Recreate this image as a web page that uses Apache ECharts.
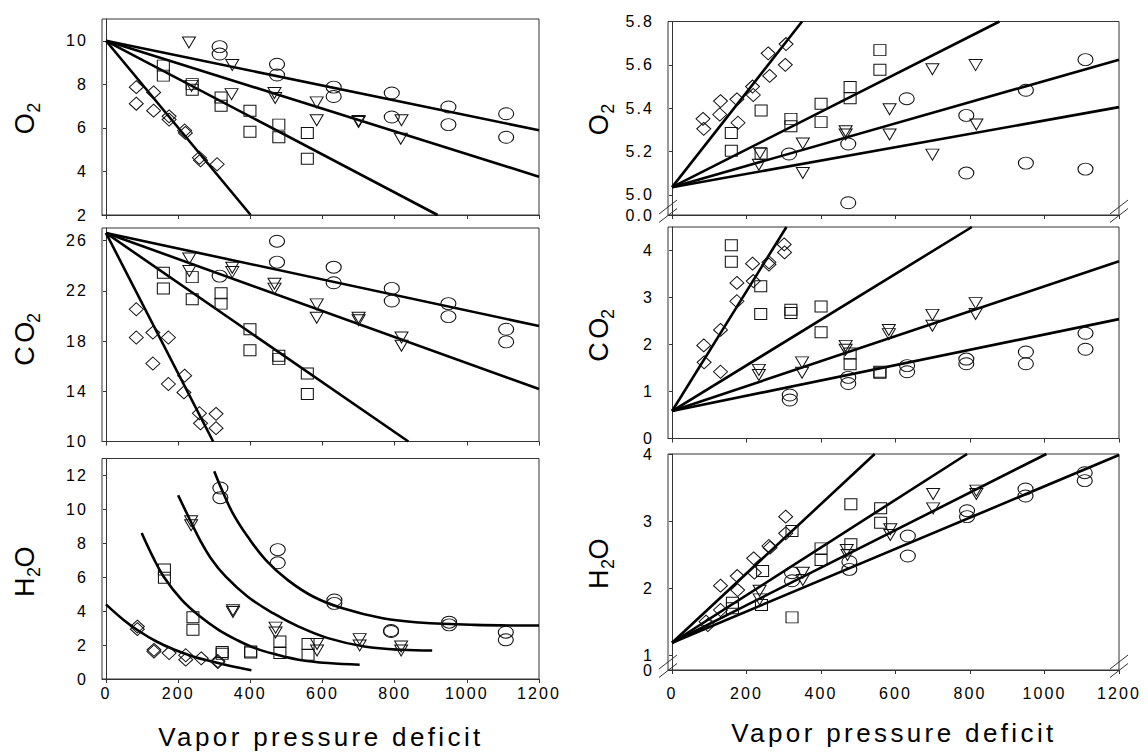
<!DOCTYPE html>
<html><head><meta charset="utf-8">
<script src="https://cdn.jsdelivr.net/npm/echarts@6/dist/echarts.min.js"></script>
<style>
html,body{margin:0;padding:0;background:#fff;}
#main{width:1148px;height:755px;}
#main text{letter-spacing:0.13em;}
</style></head><body><div id="main"></div>
<script>
// ---------- tick labels ----------
const vpdTicks = [0, 200, 400, 600, 800, 1000, 1200];
const o2LeftTicks = [2, 4, 6, 8, 10];
const co2LeftTicks = [10, 14, 18, 22, 26];
const h2oLeftTicks = [0, 2, 4, 6, 8, 10, 12];
const o2RightTicks = [4.9076, 5.0, 5.2, 5.4, 5.6, 5.8];
const o2RightLabels = ['0.0', '5.0', '5.2', '5.4', '5.6', '5.8'];
const co2RightTicks = [0, 1, 2, 3, 4];
const h2oRightTicks = [0.777, 1, 2, 3, 4];
const h2oRightLabelTicks = [1, 2, 3, 4];
const h2oRightBreakLabel = '0';

// ---------- left O2 ----------
const o2L_circ = [[315,9.73],[315,9.39],[474,8.92],[474,8.43],[631,7.87],[631,7.44],[792,7.60],[792,6.50],[949,6.96],[949,6.15],[1109,6.65],[1109,5.57]];
const o2L_tri = [[230,9.92],[350,8.89],[237,7.93],[348,7.55],[467,7.60],[469,7.37],[584,7.17],[584,6.35],[700,6.27],[700,6.32],[819,6.35],[817,5.50]];
const o2L_sq = [[159,8.86],[159,8.40],[239,8.01],[239,7.75],[319,7.40],[319,7.02],[399,6.79],[399,5.82],[479,6.15],[479,5.57],[558,5.77],[558,4.58]];
const o2L_dia = [[84,7.87],[84,7.11],[132,7.63],[132,6.79],[175,6.53],[175,6.38],[218,5.88],[220,5.77],[259,4.63],[262,4.51],[308,4.33]];
const o2L_fitCirc = [[0,10],[1200,5.89]];
const o2L_fitTri = [[0,10],[1200,3.76]];
const o2L_fitSq = [[0,10],[919,2]];
const o2L_fitDia = [[0,10],[401,2]];

// ---------- left CO2 ----------
const co2L_circ = [[474,25.95],[474,24.28],[315,23.17],[631,23.88],[631,22.64],[792,22.19],[792,21.19],[949,20.98],[949,19.94],[1109,18.94],[1109,17.93]];
const co2L_tri = [[231,24.57],[231,23.57],[350,23.83],[350,23.49],[467,22.56],[467,22.17],[584,20.92],[584,19.86],[700,19.86],[700,19.65],[819,18.28],[819,17.62]];
const co2L_sq = [[159,23.43],[159,22.19],[239,23.09],[239,21.32],[319,21.80],[319,20.98],[399,18.94],[399,17.27],[479,16.82],[479,16.56],[558,15.42],[558,13.78]];
const co2L_dia = [[84,20.53],[84,18.28],[130,18.67],[173,18.28],[130,16.21],[173,14.58],[218,15.24],[216,13.91],[259,12.25],[262,11.45],[305,12.20],[305,11.06]];
const co2L_fitCirc = [[0,26.6],[1200,19.2]];
const co2L_fitTri = [[0,26.6],[1200,14.18]];
const co2L_fitSq = [[0,26.6],[838,10]];
const co2L_fitDia = [[0,26.6],[297,10]];

// ---------- left H2O ----------
const h2oL_circ = [[317,11.26],[317,10.69],[476,7.63],[476,6.85],[633,4.66],[633,4.46],[790,2.86],[790,2.80],[951,3.35],[951,3.19],[1108,2.76],[1108,2.31]];
const h2oL_tri = [[236,9.30],[236,9.06],[352,4.05],[352,3.95],[470,3.03],[470,2.74],[585,2.06],[585,1.68],[703,2.35],[703,1.98],[818,1.92],[818,1.68]];
const h2oL_sq = [[162,6.46],[162,5.97],[241,3.64],[241,2.90],[322,1.59],[322,1.49],[401,1.62],[401,1.56],[482,2.21],[482,1.53],[560,2.06],[560,1.43]];
const h2oL_dia = [[87,3.09],[87,2.94],[133,1.72],[133,1.62],[175,1.53],[221,1.40],[221,1.14],[264,1.22],[310,1.06],[310,1.00]];
const h2oL_fitCirc = [[300,12.25],[322,11.12],[352,9.75],[393,8.38],[443,7.01],[504,5.83],[575,4.85],[656,4.17],[767,3.58],[868,3.33],[1020,3.19],[1200,3.15]];
const h2oL_fitTri = [[200,10.83],[231,9.46],[261,8.18],[291,7.11],[332,6.03],[393,4.85],[463,3.88],[534,3.09],[615,2.41],[716,1.92],[818,1.72],[904,1.68]];
const h2oL_fitSq = [[99,8.61],[130,7.20],[160,6.03],[210,4.66],[261,3.68],[312,2.90],[362,2.31],[413,1.82],[474,1.43],[534,1.14],[615,0.94],[703,0.84]];
const h2oL_fitDia = [[0,4.40],[49,3.48],[89,2.86],[140,2.21],[190,1.72],[241,1.33],[291,1.04],[342,0.78],[403,0.52]];

// ---------- right O2 ----------
const o2R_circ = [[314,5.189],[473,5.235],[473,4.964],[630,5.444],[790,5.367],[790,5.101],[950,5.483],[950,5.147],[1110,5.624],[1110,5.119]];
const o2R_tri = [[236,5.193],[233,5.139],[351,5.237],[351,5.101],[466,5.294],[466,5.279],[584,5.395],[584,5.279],[699,5.580],[699,5.186],[815,5.599],[817,5.325]];
const o2R_sq = [[159,5.286],[159,5.204],[239,5.390],[239,5.190],[319,5.351],[319,5.317],[400,5.421],[400,5.336],[478,5.498],[478,5.446],[558,5.668],[558,5.577]];
const o2R_dia = [[83,5.351],[85,5.305],[130,5.433],[128,5.371],[174,5.441],[177,5.333],[216,5.500],[218,5.461],[258,5.653],[262,5.549],[306,5.696],[304,5.600]];
const o2R_fitCirc = [[0,5.036],[1200,5.405]];
const o2R_fitTri = [[0,5.036],[1200,5.624]];
const o2R_fitSq = [[0,5.036],[879,5.8]];
const o2R_fitDia = [[0,5.036],[349,5.8]];

// ---------- right CO2 ----------
const co2R_circ = [[316,0.925],[316,0.82],[473,1.30],[473,1.17],[631,1.55],[631,1.42],[790,1.69],[790,1.59],[950,1.84],[950,1.59],[1110,2.24],[1110,1.90]];
const co2R_tri = [[233,1.46],[233,1.35],[349,1.62],[349,1.40],[466,1.97],[466,1.89],[582,2.31],[582,2.22],[699,2.63],[699,2.40],[815,2.88],[815,2.65]];
const co2R_sq = [[159,4.11],[159,3.76],[238,3.24],[238,2.65],[319,2.74],[319,2.67],[400,2.81],[400,2.26],[478,1.81],[478,1.58],[558,1.40],[558,1.42]];
const co2R_dia = [[85,1.98],[86,1.62],[130,2.31],[130,1.42],[174,3.31],[174,2.92],[216,3.72],[218,3.35],[260,3.75],[260,3.70],[301,4.13],[302,3.96]];
const co2R_fitCirc = [[0,0.584],[1200,2.54]];
const co2R_fitTri = [[0,0.584],[1200,3.77]];
const co2R_fitSq = [[0,0.584],[805,4.5]];
const co2R_fitDia = [[0,0.584],[307,4.5]];

// ---------- right H2O ----------
const h2oR_circ = [[322,2.229],[322,2.109],[476,2.393],[476,2.279],[633,2.776],[633,2.478],[792,3.154],[792,3.065],[949,3.478],[949,3.373],[1108,3.721],[1108,3.602]];
const h2oR_tri = [[235,1.960],[235,1.831],[351,2.229],[351,2.119],[469,2.567],[471,2.493],[586,2.876],[586,2.791],[701,3.403],[701,3.189],[817,3.453],[817,3.403]];
const h2oR_sq = [[162,1.781],[162,1.697],[243,2.254],[240,1.746],[322,2.851],[322,1.562],[400,2.592],[400,2.418],[480,3.249],[480,2.652],[560,3.189],[560,2.975]];
const h2oR_dia = [[91,1.498],[96,1.448],[130,2.035],[130,1.672],[175,2.179],[176,1.970],[219,2.443],[221,2.229],[260,2.627],[263,2.602],[305,3.065],[305,2.816]];
const h2oR_fitCirc = [[0,1.184],[1200,3.985]];
const h2oR_fitTri = [[0,1.184],[1005,4]];
const h2oR_fitSq = [[0,1.184],[792,4]];
const h2oR_fitDia = [[0,1.184],[544,4]];

// ---------- layout ----------
const FONT = "'Liberation Sans', Arial, sans-serif";
const grids = [
  {left:102, top:19,    width:437, height:196},
  {left:102, top:228,   width:437, height:213.5},
  {left:102, top:458.5, width:437, height:220.5},
  {left:668, top:21.5,  width:451, height:193.5},
  {left:668, top:227,   width:451, height:211.5},
  {left:668, top:454,   width:451, height:216}
];
const panels = [
  {min:2, max:11, ticks:o2LeftTicks, labelTicks:o2LeftTicks, labels:null, xLab:false, sc:[o2L_circ,o2L_tri,o2L_sq,o2L_dia], fit:[o2L_fitCirc,o2L_fitTri,o2L_fitSq,o2L_fitDia], smooth:false},
  {min:10, max:27, ticks:co2LeftTicks, labelTicks:co2LeftTicks, labels:null, xLab:false, sc:[co2L_circ,co2L_tri,co2L_sq,co2L_dia], fit:[co2L_fitCirc,co2L_fitTri,co2L_fitSq,co2L_fitDia], smooth:false},
  {min:0, max:13, ticks:h2oLeftTicks, labelTicks:h2oLeftTicks, labels:null, xLab:true, xMargin:6, sc:[h2oL_circ,h2oL_tri,h2oL_sq,h2oL_dia], fit:[h2oL_fitCirc,h2oL_fitTri,h2oL_fitSq,h2oL_fitDia], smooth:true},
  {min:4.9076, max:5.8, ticks:o2RightTicks, labelTicks:o2RightTicks, labels:o2RightLabels, xLab:false, sc:[o2R_circ,o2R_tri,o2R_sq,o2R_dia], fit:[o2R_fitCirc,o2R_fitTri,o2R_fitSq,o2R_fitDia], smooth:false},
  {min:0, max:4.5, ticks:co2RightTicks, labelTicks:co2RightTicks, labels:null, xLab:false, sc:[co2R_circ,co2R_tri,co2R_sq,co2R_dia], fit:[co2R_fitCirc,co2R_fitTri,co2R_fitSq,co2R_fitDia], smooth:false},
  {min:0.777, max:4, ticks:h2oRightTicks, labelTicks:h2oRightLabelTicks, labels:null, xLab:true, xMargin:15, sc:[h2oR_circ,h2oR_tri,h2oR_sq,h2oR_dia], fit:[h2oR_fitCirc,h2oR_fitTri,h2oR_fitSq,h2oR_fitDia], smooth:false}
];

const symbols = [
  {symbol:'path://M0,5A6,5,0,1,1,12,5A6,5,0,1,1,0,5Z', size:[15,12], rotate:0},
  {symbol:'triangle', size:[13,11], rotate:180},
  {symbol:'rect', size:[12,11], rotate:0},
  {symbol:'diamond', size:[14,13], rotate:0}
];
const AX = '#333';
const LABEL_MARGIN = 14;

const xAxes = [], yAxes = [], series = [];
panels.forEach((p, i) => {
  xAxes.push({
    type:'value', gridIndex:i, min:-11, max:1200,
    axisLine:{show:true, lineStyle:{color:AX, width:1}},
    axisTick:{show:true, customValues:vpdTicks, length:4, inside:false, lineStyle:{color:AX}},
    axisLabel:{show:p.xLab, customValues:vpdTicks, margin:p.xMargin || 8, fontSize:16, color:'#000', fontFamily:FONT,
      showMinLabel:true, showMaxLabel:true, hideOverlap:false, formatter:(v) => String(v)},
    splitLine:{show:false}
  });
  yAxes.push({
    type:'value', gridIndex:i, min:p.min, max:p.max,
    axisLine:{show:true, lineStyle:{color:AX, width:1}},
    axisTick:{show:true, customValues:p.ticks, length:3, inside:false, lineStyle:{color:AX}},
    axisLabel:{show:true, customValues:p.labelTicks, margin:LABEL_MARGIN, fontSize:16, lineHeight:10, color:'#000', fontFamily:FONT,
      showMinLabel:true, showMaxLabel:true, hideOverlap:false,
      formatter:(v) => {
        if (p.labels) {
          let k = p.ticks.findIndex(t => Math.abs(t - v) < 1e-6);
          return k >= 0 ? p.labels[k] : '';
        }
        return String(v);
      }},
    splitLine:{show:false}
  });
  p.fit.forEach(d => series.push({
    type:'line', xAxisIndex:i, yAxisIndex:i, data:d, showSymbol:false, symbol:'none',
    smooth:p.smooth ? 0.4 : false, silent:true, z:2,
    lineStyle:{color:'#000', width:2.6}
  }));
  p.sc.forEach((d, k) => series.push({
    type:'scatter', xAxisIndex:i, yAxisIndex:i, data:d, silent:true, z:3,
    symbol:symbols[k].symbol, symbolSize:symbols[k].size, symbolRotate:symbols[k].rotate,
    itemStyle:{color:'rgba(0,0,0,0)', borderColor:'#111', borderWidth:1, opacity:1}
  }));
});

// ---------- texts & break marks ----------
const rich = {
  a:{fontSize:27, lineHeight:36, verticalAlign:'middle', fontFamily:FONT, fill:'#000'},
  b:{fontSize:18, lineHeight:18, verticalAlign:'bottom', fontFamily:FONT, fill:'#000'}
};
function yTitle(x, y, txt) {
  return {type:'text', x:x, y:y, rotation:Math.PI/2, silent:true,
    style:{text:txt, rich:rich, align:'center', verticalAlign:'middle', fill:'#000'}};
}
function xTitle(x, y) {
  return {type:'text', x:x, y:y, silent:true,
    style:{text:'Vapor pressure deficit', font:'26px ' + FONT, align:'center', verticalAlign:'middle', fill:'#000'}};
}
function breakMarks(gi, offsets) {
  const g = grids[gi], out = [];
  const yb = g.top + g.height;
  [g.left, g.left + g.width].forEach(x => offsets.forEach(o => out.push({
    type:'line', silent:true, z:10,
    shape:{x1:x - 9, y1:yb + o + 7, x2:x + 9, y2:yb + o - 7},
    style:{stroke:'#333', lineWidth:1}
  })));
  return out;
}
const g5 = grids[5];
const graphics = [
  yTitle(25, 117, '{a|O}{b|2}'),
  yTitle(25, 337, '{a|CO}{b|2}'),
  yTitle(25, 570, '{a|H}{b|2}{a|O}'),
  yTitle(599, 118, '{a|O}{b|2}'),
  yTitle(599, 333, '{a|CO}{b|2}'),
  yTitle(599, 562, '{a|H}{b|2}{a|O}'),
  xTitle(321, 737),
  xTitle(894, 733),
  {type:'text', x:g5.left - LABEL_MARGIN, y:g5.top + g5.height, silent:true,
    style:{text:h2oRightBreakLabel, font:'16px ' + FONT, align:'right', verticalAlign:'middle', fill:'#000'}}
].concat(breakMarks(3, [-8, 0.5])).concat(breakMarks(5, [-8, 0.5]));

const chart = echarts.init(document.getElementById('main'), null, {renderer:'svg', width:1148, height:755});
chart.setOption({
  animation:false,
  backgroundColor:'#fff',
  grid:grids.map(g => Object.assign({show:true, borderColor:AX, borderWidth:1, backgroundColor:'transparent', containLabel:false, outerBoundsMode:'none'}, g)),
  xAxis:xAxes,
  yAxis:yAxes,
  series:series,
  graphic:graphics
});
</script></body></html>
